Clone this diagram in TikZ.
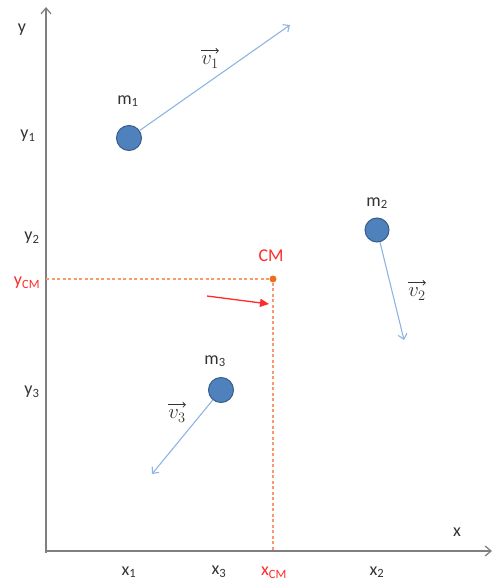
\documentclass[tikz,border=0pt]{standalone}
\usepackage{fontspec}
\setmainfont{Carlito}
\usetikzlibrary{arrows.meta}
\definecolor{axisgray}{HTML}{7F7F7F}
\definecolor{txtgray}{HTML}{333333}
\definecolor{massfill}{HTML}{4F81BD}
\definecolor{massdraw}{HTML}{385D8A}
\definecolor{velblue}{HTML}{8DB4E2}
\definecolor{cmred}{HTML}{FF2A2A}
\definecolor{cmorange}{HTML}{F89A6C}
\definecolor{dotorange}{HTML}{ED6D21}
\tikzset{
  axis/.style={draw=axisgray, line width=1.2pt, -{Straight Barb[length=6pt,width=10pt]}},
  mass/.style={circle, fill=massfill, draw=massdraw, line width=1pt, minimum size=25pt, inner sep=0pt},
  vel/.style={draw=velblue, line width=1.1pt, -{Straight Barb[length=5pt,width=9pt]}},
  lbl/.style={text=txtgray, font=\fontsize{18}{21}\selectfont, inner sep=0pt},
  cmlbl/.style={text=cmred, font=\fontsize{18}{21}\selectfont, inner sep=0pt},
  guide/.style={draw=cmorange, line width=1.1pt, dash pattern=on 3pt off 2.5pt},
  vlbl/.style={text=txtgray, font=\fontsize{20}{24}\selectfont, inner sep=0pt},
  varrow/.style={draw=txtgray, line width=0.8pt, -{Straight Barb[length=2.5pt,width=5pt]}}
}
\begin{document}
\begin{tikzpicture}[x=1pt,y=-1pt]
\useasboundingbox (0,0) rectangle (493,585);
% axes
\coordinate (ytop) at (46,7);
\coordinate (xend) at (492,551);
\draw[axis] (46,553) -- (ytop);
\draw[axis] (45,551) -- (xend);
\node[lbl] (ylab) at (22,30) {y};
\node[lbl] (xlab) at (457,532) {x};
% tick labels
\node[lbl] (y1) at (28,136) {y\textsubscript{1}};
\node[lbl] (y2) at (32,238) {y\textsubscript{2}};
\node[cmlbl] (ycm) at (27,283) {y\textsubscript{CM}};
\node[lbl] (y3) at (32,392) {y\textsubscript{3}};
\node[lbl] (x1) at (129,572) {x\textsubscript{1}};
\node[lbl] (x3) at (219,572) {x\textsubscript{3}};
\node[cmlbl] (xcm) at (274,573) {x\textsubscript{CM}};
\node[lbl] (x2) at (377,572) {x\textsubscript{2}};
% center of mass
\node[circle, fill=dotorange, inner sep=0pt, minimum size=7pt] (cm) at (273,279) {};
\node[cmlbl] (cmlab) at (271,256) {CM};
\coordinate (cmy) at (46,279);
\coordinate (cmx) at (273,551);
\draw[guide] (cmy) -- (cm.west);
\draw[guide] (cm.south) -- (cmx);
\coordinate (ra) at (207,296);
\coordinate (rb) at (269,304);
\draw[cmred, line width=1.3pt, -{Triangle[length=9pt,width=8pt]}] (ra) -- (rb);
% masses
\node[mass] (m1) at (129,138) {};
\node[lbl] (m1lab) at (128,101) {m\textsubscript{1}};
\coordinate (v1end) at (290,25);
\draw[vel] (m1) -- (v1end);
\node[vlbl] (v1lab) at (210,62) {$v_1$};
\draw[varrow] ([yshift=5pt]v1lab.north west) -- ([yshift=5pt]v1lab.north east);
\node[mass, minimum size=24pt] (m2) at (377,230) {};
\node[lbl] (m2lab) at (377,203) {m\textsubscript{2}};
\coordinate (v2end) at (404,340);
\draw[vel] (m2) -- (v2end);
\node[vlbl] (v2lab) at (417,294) {$v_2$};
\draw[varrow] ([yshift=5pt]v2lab.north west) -- ([yshift=5pt]v2lab.north east);
\node[mass] (m3) at (221,390) {};
\node[lbl] (m3lab) at (215,361) {m\textsubscript{3}};
\coordinate (v3end) at (152,474);
\draw[vel] (m3) -- (v3end);
\node[vlbl] (v3lab) at (177,416) {$v_3$};
\draw[varrow] ([yshift=5pt]v3lab.north west) -- ([yshift=5pt]v3lab.north east);
\end{tikzpicture}
\end{document}
